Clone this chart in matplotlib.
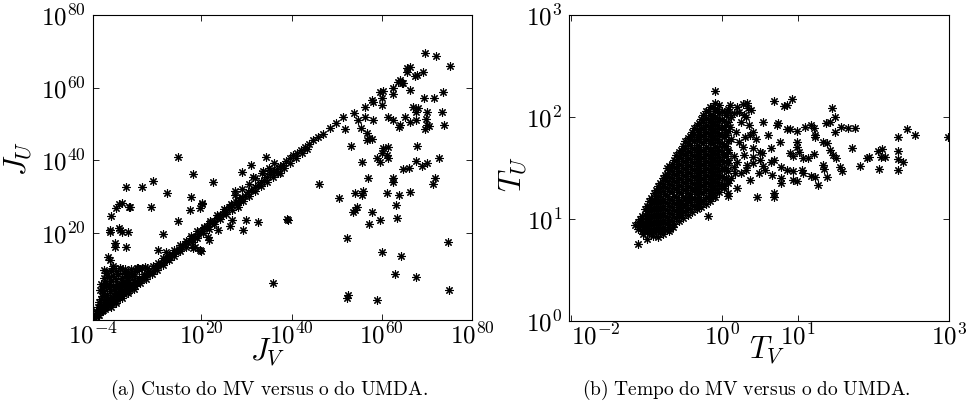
import numpy as np
import matplotlib
matplotlib.use("Agg")
import matplotlib.pyplot as plt
from matplotlib.ticker import NullLocator

plt.rcParams["mathtext.fontset"] = "cm"
plt.rcParams["font.family"] = "serif"

# ---------------- (a) cost: log10(J_V), log10(J_U) ----------------
# points along the main diagonal
cost_diag = [
    (-3.6, -3.4), (-3.3, -3.0), (-3.0, -2.6), (-2.7, -2.5), (-2.4, -1.9), (-2.0, -1.6),
    (-1.7, -1.2), (-1.3, -1.0), (-1.0, -0.5), (-0.6, -0.2), (-0.2, 0.3), (0.2, 0.6),
    (0.6, 1.1), (1.0, 1.3), (1.4, 1.9), (1.8, 2.2), (2.3, 2.7), (2.8, 3.1), (3.2, 3.8),
    (3.7, 4.0), (4.2, 4.6), (4.7, 5.3), (5.2, 5.5), (5.8, 6.3), (6.3, 6.9), (6.9, 7.2),
    (7.4, 8.0), (8.0, 8.4), (8.6, 9.1), (9.2, 9.6), (9.8, 10.4), (10.4, 10.9), (11.0, 11.6),
    (11.7, 12.1), (12.3, 12.9), (13.0, 13.4), (13.6, 14.2), (14.3, 14.8), (15.0, 15.6),
    (15.7, 16.1), (16.4, 17.0), (17.1, 17.6), (17.8, 18.5), (18.5, 19.0), (19.2, 19.8),
    (19.9, 20.4), (20.6, 21.3), (21.3, 21.8), (22.0, 22.8), (22.7, 23.2), (23.4, 24.1),
    (24.1, 24.9), (24.8, 25.3), (25.5, 26.2), (26.2, 27.0), (26.9, 27.6), (27.6, 28.4),
    (28.3, 29.0), (29.0, 29.9), (29.7, 30.3), (30.4, 31.2), (31.1, 31.8), (31.8, 32.6),
    (32.5, 33.3), (33.2, 34.0), (33.9, 34.5), (34.6, 35.4), (35.3, 36.2), (36.0, 36.8),
    (36.7, 37.6), (37.4, 38.3), (38.1, 38.8), (38.8, 39.7), (39.6, 40.6), (40.4, 41.4),
    (41.2, 42.0), (42.0, 42.9), (42.9, 43.8), (43.8, 44.5), (44.8, 45.5), (45.8, 46.4),
    (46.9, 47.3), (48.5, 48.9), (49.9, 50.4), (51.5, 51.8),
    # upper edge of the band
    (-3.2, -2.0), (-2.5, -0.8), (-1.8, 0.0), (-1.0, 1.0), (-0.2, 1.8), (0.6, 2.6),
    (1.5, 3.5), (2.4, 4.3), (3.3, 5.0), (4.2, 5.8), (5.2, 6.6), (6.2, 7.6), (7.2, 8.6),
    (8.2, 9.5), (9.3, 10.8), (10.5, 11.8), (11.6, 13.0), (12.8, 14.0), (14.0, 15.2),
    (15.2, 16.6), (16.5, 17.8), (17.8, 19.2), (19.0, 20.4), (20.5, 21.6), (22.0, 23.4),
    (23.5, 25.0), (25.0, 26.5), (26.5, 28.0), (27.5, 30.5), (29.0, 32.0), (30.5, 33.5),
    (32.0, 35.0), (33.5, 36.5), (35.0, 38.0), (36.0, 39.2), (28.5, 29.0),
    # lower edge of the band
    (0.0, -0.4), (1.2, 0.8), (2.5, 2.1), (3.8, 3.4), (5.0, 4.6), (6.5, 6.1), (7.8, 7.4),
    (9.0, 8.6), (10.2, 9.8), (11.5, 11.1), (12.8, 12.4), (14.0, 13.6), (15.3, 14.9),
    (16.6, 16.2), (17.9, 17.5), (19.1, 18.7), (20.4, 20.0), (21.6, 21.2), (22.9, 22.5),
    (24.2, 23.8), (25.5, 25.1), (26.8, 26.4), (28.0, 27.6), (29.3, 28.9), (30.6, 30.2),
    (31.9, 31.5), (33.2, 32.8), (34.5, 34.1), (35.8, 35.4), (37.0, 36.6), (38.3, 37.9),
    (39.6, 39.2), (41.0, 40.6), (42.4, 42.0), (43.5, 43.1),
]

# cluster above the diagonal near the origin
cost_cluster = [
    (0.4, 10.8), (2.0, 10.4), (3.0, 10.0), (3.8, 9.3), (-1.1, 9.0), (0.4, 8.0), (1.5, 8.6),
    (2.4, 7.6), (3.5, 8.0), (4.6, 8.8), (5.4, 9.6), (6.2, 10.0), (-1.3, 6.2), (0.0, 6.8),
    (1.3, 6.0), (2.6, 6.4), (4.0, 6.6), (5.0, 7.0), (-1.8, 4.3), (-0.5, 5.0), (0.9, 4.6),
    (2.0, 4.0), (-2.0, 2.6), (-0.8, 3.0), (0.4, 2.4), (-2.6, 1.0), (-1.5, 1.6), (-3.0, -0.5),
    (-2.2, 0.0), (-1.0, 1.0), (3.0, 5.2), (1.6, 2.6), (-3.3, -1.5),
    (-1.5, 5.0), (-0.5, 6.0), (0.5, 5.5), (1.8, 5.0), (3.0, 6.0), (4.0, 7.8), (5.0, 8.2),
    (0.8, 3.5), (-1.0, 2.2), (-2.3, 1.8), (-1.7, 3.5), (-0.3, 4.0), (2.2, 5.8), (3.6, 7.0),
    (1.0, 7.2), (-0.5, 7.8), (-1.6, 7.6), (-2.2, 6.0), (0.0, 9.4), (1.2, 9.6), (2.8, 9.0),
    (4.5, 10.0), (-2.5, 4.2), (-1.5, 9.8), (6.8, 10.2),
]

# scattered points away from the diagonal
cost_scatter = [
    (14.8, 40.9), (18.2, 36.2), (22.6, 34.0), (29.0, 36.8), (31.0, 38.7), (34.3, 40.9),
    (31.5, 35.4), (33.7, 37.0), (35.2, 37.3), (37.4, 36.5), (17.7, 29.9), (20.2, 28.2),
    (19.7, 26.8), (17.5, 26.3), (27.5, 31.5), (28.1, 27.1), (26.8, 23.5), (26.4, 21.9),
    (29.9, 23.5), (32.6, 23.0), (39.0, 23.8), (29.2, 20.8), (23.7, 20.8), (21.5, 18.9),
    (21.7, 18.0), (18.6, 16.1), (19.9, 15.0), (12.4, 31.0), (20.2, 28.0), (14.8, 23.3),
    (11.5, 19.7), (10.4, 15.3), (8.0, 10.3), (5.8, 10.3), (8.9, 27.1), (9.3, 34.3),
    (6.9, 32.6), (3.3, 32.6), (4.2, 27.1), (1.8, 28.0), (2.4, 28.2), (0.0, 24.6),
    (-0.2, 20.8), (-0.2, 20.2), (2.0, 20.8), (3.8, 20.2), (0.9, 17.2), (0.9, 16.1),
    (3.3, 16.1), (-0.7, 13.4), (-0.2, 12.5), (-0.9, 8.9), (0.4, 10.3), (2.0, 10.3),
    (-1.1, 5.6), (1.1, 26.8), (4.0, 27.1), (1.8, 21.3), (2.4, 20.2), (12.2, 14.7),
    (18.2, 15.8), (19.7, 15.3), (6.0, 10.3), (7.5, 10.6), (46.1, 33.5), (35.9, 6.2),
    (39.2, 23.5),
    (69.6, 69.5), (72.0, 68.7), (75.1, 66.0), (65.6, 65.4), (66.2, 65.7), (65.6, 64.3),
    (67.4, 63.2), (67.8, 63.5), (69.1, 64.3), (64.0, 62.1), (64.5, 61.3), (64.7, 61.3),
    (63.6, 61.5), (66.2, 59.3), (62.5, 60.0), (62.5, 58.2), (59.6, 58.8), (60.3, 59.1),
    (60.0, 57.1), (57.8, 56.6), (58.0, 56.0), (56.3, 54.7), (60.0, 55.2), (73.6, 58.8),
    (69.4, 57.1), (71.6, 57.1), (66.9, 54.7), (68.0, 54.4), (67.6, 53.3), (70.0, 53.3),
    (73.3, 53.3), (53.8, 53.0), (54.7, 51.1), (56.3, 51.9), (58.0, 51.1), (61.4, 51.9),
    (62.5, 51.1), (65.1, 51.9), (66.2, 50.5), (67.6, 51.1), (69.8, 51.4), (70.0, 49.7),
    (70.5, 49.4), (64.0, 49.7), (63.8, 49.2), (51.8, 48.6), (55.4, 48.9), (73.8, 49.7),
    (69.6, 48.6), (56.7, 47.5), (57.2, 46.1), (56.7, 45.6), (57.8, 45.9), (53.2, 43.9),
    (67.8, 43.9), (60.3, 43.4), (61.4, 43.6), (60.0, 42.0), (61.1, 41.4), (61.4, 40.6),
    (58.9, 40.6), (59.6, 39.5), (55.6, 39.5), (67.6, 39.8), (68.9, 38.4), (70.0, 39.2),
    (72.7, 40.6), (64.7, 37.6), (66.0, 37.9), (56.9, 35.1), (62.5, 35.1), (71.8, 35.1),
    (62.5, 34.0), (71.3, 33.5), (54.1, 31.0), (55.8, 31.5), (55.6, 30.4), (50.5, 29.6),
    (61.1, 31.0), (63.8, 30.4), (66.2, 31.3), (63.1, 27.7), (54.1, 26.3), (54.5, 27.1),
    (53.6, 25.7), (57.8, 25.7), (59.6, 23.5), (57.2, 22.4), (63.4, 24.1), (52.3, 18.6),
    (74.7, 17.5), (60.0, 14.7), (64.3, 13.6), (62.9, 8.7), (67.6, 7.8), (74.9, 4.3),
    (52.5, 2.9), (52.3, 2.1), (58.9, 1.5),
]

# ---------------- (b) time: log10(T_V), log10(T_U) ----------------
# dense core, one entry per T_V column: (log10 T_V, [log10 T_U ...])
time_core = [
    (-1.12, [0.90, 0.97]),
    (-1.09, [0.93, 1.00]),
    (-1.06, [0.88, 0.95, 1.03]),
    (-1.03, [0.90, 0.97, 1.04, 1.10]),
    (-1.00, [0.87, 0.94, 1.01, 1.08, 1.13]),
    (-0.97, [0.90, 0.97, 1.04, 1.11, 1.18]),
    (-0.94, [0.87, 0.94, 1.01, 1.08, 1.15, 1.21]),
    (-0.91, [0.91, 0.98, 1.05, 1.12, 1.19, 1.25]),
    (-0.88, [0.88, 0.95, 1.02, 1.09, 1.16, 1.23, 1.28]),
    (-0.85, [0.91, 0.98, 1.05, 1.12, 1.19, 1.26, 1.32]),
    (-0.82, [0.88, 0.95, 1.02, 1.09, 1.16, 1.23, 1.30, 1.35]),
    (-0.79, [0.92, 0.99, 1.06, 1.13, 1.20, 1.27, 1.34, 1.40]),
    (-0.76, [0.89, 0.96, 1.03, 1.10, 1.17, 1.24, 1.31, 1.38, 1.43]),
    (-0.73, [0.95, 1.02, 1.09, 1.16, 1.23, 1.30, 1.37, 1.44, 1.50]),
    (-0.70, [0.92, 0.99, 1.06, 1.13, 1.20, 1.27, 1.34, 1.41, 1.48, 1.52]),
    (-0.67, [0.98, 1.05, 1.12, 1.19, 1.26, 1.33, 1.40, 1.47, 1.54]),
    (-0.64, [0.95, 1.02, 1.09, 1.16, 1.23, 1.30, 1.37, 1.44, 1.51, 1.58]),
    (-0.61, [1.01, 1.08, 1.15, 1.22, 1.29, 1.36, 1.43, 1.50, 1.57, 1.63]),
    (-0.58, [0.98, 1.05, 1.12, 1.19, 1.26, 1.33, 1.40, 1.47, 1.54, 1.61, 1.66]),
    (-0.55, [1.04, 1.11, 1.18, 1.25, 1.32, 1.39, 1.46, 1.53, 1.60, 1.68]),
    (-0.52, [1.01, 1.08, 1.15, 1.22, 1.29, 1.36, 1.43, 1.50, 1.57, 1.64, 1.72]),
    (-0.49, [1.07, 1.14, 1.21, 1.28, 1.35, 1.42, 1.49, 1.56, 1.63, 1.70, 1.76]),
    (-0.46, [1.04, 1.11, 1.18, 1.25, 1.32, 1.39, 1.46, 1.53, 1.60, 1.67, 1.74, 1.79]),
    (-0.43, [1.10, 1.17, 1.24, 1.31, 1.38, 1.45, 1.52, 1.59, 1.66, 1.73, 1.81]),
    (-0.40, [1.07, 1.14, 1.21, 1.28, 1.35, 1.42, 1.49, 1.56, 1.63, 1.70, 1.77, 1.85]),
    (-0.37, [1.13, 1.20, 1.27, 1.34, 1.41, 1.48, 1.55, 1.62, 1.69, 1.76, 1.83, 1.89]),
    (-0.34, [1.10, 1.17, 1.24, 1.31, 1.38, 1.45, 1.52, 1.59, 1.66, 1.73, 1.80, 1.87, 1.92]),
    (-0.31, [1.15, 1.22, 1.29, 1.36, 1.43, 1.50, 1.57, 1.64, 1.71, 1.78, 1.85, 1.94]),
    (-0.28, [1.12, 1.19, 1.26, 1.33, 1.40, 1.47, 1.54, 1.61, 1.68, 1.75, 1.82, 1.89, 1.98]),
    (-0.25, [1.18, 1.25, 1.32, 1.39, 1.46, 1.53, 1.60, 1.67, 1.74, 1.81, 1.88, 1.95, 2.02]),
    (-0.22, [1.15, 1.22, 1.29, 1.36, 1.43, 1.50, 1.57, 1.64, 1.71, 1.78, 1.85, 1.92, 1.99, 2.06]),
    (-0.19, [1.21, 1.28, 1.35, 1.42, 1.49, 1.56, 1.63, 1.70, 1.77, 1.84, 1.91, 1.98, 2.06]),
    (-0.16, [1.18, 1.25, 1.32, 1.39, 1.46, 1.53, 1.60, 1.67, 1.74, 1.81, 1.88, 1.95, 2.02, 2.10]),
    (-0.13, [1.25, 1.32, 1.39, 1.46, 1.53, 1.60, 1.67, 1.74, 1.81, 1.88, 1.95, 2.02, 2.10]),
    (-0.10, [1.22, 1.29, 1.36, 1.43, 1.50, 1.57, 1.64, 1.71, 1.78, 1.85, 1.92, 1.99, 2.06, 2.14, 2.25]),
    (-0.07, [1.29, 1.36, 1.43, 1.50, 1.57, 1.64, 1.71, 1.78, 1.85, 1.92, 1.99, 2.08]),
    (-0.04, [1.26, 1.33, 1.40, 1.47, 1.54, 1.61, 1.68, 1.75, 1.82, 1.89, 1.96, 2.04, 2.12]),
    (-0.01, [1.34, 1.42, 1.50, 1.58, 1.66, 1.74, 1.82, 1.90, 1.98, 2.06]),
    (0.02, [1.32, 1.40, 1.48, 1.56, 1.64, 1.72, 1.80, 1.88, 1.96, 2.05]),
    (0.05, [1.40, 1.50, 1.62, 1.72, 1.82, 1.92, 2.02]),
    (0.08, [1.38, 1.47, 1.58, 1.66, 1.76, 1.86, 1.95, 2.08]),
]

time_scatter = [
    (0.68, 2.16), (0.81, 2.11), (0.85, 2.12), (0.92, 2.18), (1.45, 2.09), (1.49, 2.00),
    (1.37, 1.94), (1.43, 1.95), (1.49, 1.85), (1.57, 1.90), (1.66, 1.89), (1.75, 1.89),
    (0.54, 1.95), (0.72, 1.92), (0.74, 1.94), (0.86, 1.88), (0.90, 1.88), (0.99, 1.86),
    (1.10, 1.90), (1.17, 1.92), (1.21, 1.89), (1.22, 1.82), (1.23, 1.80), (0.60, 1.82),
    (0.76, 1.75), (0.99, 1.75), (0.99, 1.71), (1.01, 1.66), (0.65, 1.70), (0.50, 1.66),
    (0.89, 1.65), (0.94, 1.62), (1.07, 1.60), (1.13, 1.60), (1.21, 1.64), (1.33, 1.75),
    (1.39, 1.74), (1.43, 1.68), (1.47, 1.63), (1.51, 1.60), (1.56, 1.51), (1.58, 1.47),
    (1.33, 1.53), (1.35, 1.49), (1.39, 1.41), (1.06, 1.48), (1.07, 1.45), (0.77, 1.51),
    (0.85, 1.48), (0.93, 1.47), (1.17, 1.42), (1.23, 1.41), (0.68, 1.58), (0.64, 1.56),
    (0.54, 1.52), (0.57, 1.48), (0.66, 1.43), (0.77, 1.40), (0.78, 1.35), (0.94, 1.38),
    (0.99, 1.37), (1.26, 1.33), (0.68, 1.25), (0.68, 1.22), (1.72, 1.70), (1.82, 1.52),
    (1.91, 1.60), (1.94, 1.61), (2.06, 1.67), (2.11, 1.69), (2.10, 1.61), (2.15, 1.61),
    (2.07, 1.49), (2.32, 1.67), (2.32, 1.59), (2.39, 1.56), (2.32, 1.48), (2.33, 1.80),
    (2.44, 1.88), (2.55, 1.82), (2.98, 1.80),
    (0.07, 2.05), (0.15, 2.04), (0.33, 2.14), (0.34, 2.09), (0.28, 2.02), (0.31, 2.00),
    (0.41, 1.85), (0.37, 1.82), (0.07, 1.68), (0.27, 1.71), (0.28, 1.63), (0.40, 1.70),
    (0.41, 1.61), (0.53, 1.65), (0.33, 1.53), (0.31, 1.48), (0.15, 1.51), (0.20, 1.56),
    (0.37, 1.38), (0.08, 1.35), (0.17, 1.45), (0.07, 1.25), (0.08, 1.23), (-0.17, 1.23),
    (-0.13, 1.22), (0.46, 1.22), (-0.31, 1.13), (-0.19, 1.03), (-0.33, 1.30), (-0.46, 1.19),
    (-0.45, 1.22), (-0.56, 1.12), (-0.56, 1.06), (-0.72, 0.97), (-0.69, 0.90), (-0.82, 0.87),
    (-0.95, 0.86), (-1.05, 0.92), (-1.11, 0.75), (-0.98, 0.89), (-0.99, 0.97),
    (0.10, 1.90), (0.18, 1.85), (0.25, 1.95), (0.30, 1.80), (0.22, 1.75), (0.12, 1.78),
    (0.05, 1.85), (0.35, 1.92), (0.45, 1.78), (0.15, 1.62), (0.08, 1.55), (0.25, 1.45),
    (0.12, 1.40), (0.20, 1.30), (0.02, 1.30), (0.40, 1.55), (0.48, 1.45), (0.50, 1.58),
    (0.10, 2.12), (0.20, 2.10), (0.27, 2.13), (0.22, 2.05), (0.12, 2.00), (0.38, 2.07),
    (-1.15, 0.94), (-1.05, 0.85), (-1.00, 0.80), (-0.92, 0.83), (-0.85, 0.82), (-0.78, 0.85),
    (-0.70, 0.88), (-0.65, 0.92), (-0.88, 0.90), (-1.08, 0.98),
]

cost_xticks = [-4, 20, 40, 60, 80]
cost_yticks = [20, 40, 60, 80]
time_xticks = [-2, 0, 1, 3]
time_yticks = [0, 1, 2, 3]

caption_a = r"$\mathrm{(a)\ Custo\ do\ MV\ versus\ o\ do\ UMDA.}$"
caption_b = r"$\mathrm{(b)\ Tempo\ do\ MV\ versus\ o\ do\ UMDA.}$"


def to_values(pairs):
    lx, ly = zip(*pairs)
    return 10.0 ** np.array(lx), 10.0 ** np.array(ly)


def style_axes(ax, xticks, yticks):
    ax.set_xscale("log")
    ax.set_yscale("log")
    ax.set_xticks([10.0 ** e for e in xticks])
    ax.set_xticklabels([r"$10^{%d}$" % e for e in xticks])
    ax.set_yticks([10.0 ** e for e in yticks])
    ax.set_yticklabels([r"$10^{%d}$" % e for e in yticks])
    ax.xaxis.set_minor_locator(NullLocator())
    ax.yaxis.set_minor_locator(NullLocator())
    ax.tick_params(direction="in", top=True, right=True, length=4, width=0.6,
                   labelsize=18)
    ax.tick_params(axis="x", pad=2)
    ax.tick_params(axis="y", pad=5)
    for s in ax.spines.values():
        s.set_linewidth(0.8)


marker = dict(linestyle="none", marker=(8, 2, 0), markersize=6,
              markeredgewidth=0.8, color="k")

fig = plt.figure(figsize=(9.67, 4.07), dpi=100)

# (a) cost
ax1 = fig.add_axes([0.0962, 0.2138, 0.392, 0.749])
for group in (cost_diag, cost_cluster, cost_scatter):
    x, y = to_values(group)
    ax1.plot(x, y, **marker)
style_axes(ax1, cost_xticks, cost_yticks)
ax1.set_xlim(1e-4, 1e80)
ax1.set_ylim(1e-4, 1e80)
ax1.set_xlabel(r"$J_V$", fontsize=22)
ax1.set_ylabel(r"$J_U$", fontsize=22)
ax1.xaxis.set_label_coords(0.462, -0.105)
ax1.yaxis.set_label_coords(-0.198, 0.53)
ax1.xaxis.label.set_va("center")
ax1.yaxis.label.set_va("center")

# (b) time
ax2 = fig.add_axes([0.5884, 0.2113, 0.393, 0.752])
core = [(cx, cy) for cx, ys in time_core for cy in ys]
for group in (core, time_scatter):
    x, y = to_values(group)
    ax2.plot(x, y, **marker)
style_axes(ax2, time_xticks, time_yticks)
ax2.set_xlim(10 ** -2.03, 1e3)
ax2.set_ylim(1, 1e3)
ax2.get_xticklabels()[0].set_ha("left")
ax2.set_xlabel(r"$T_V$", fontsize=22)
ax2.set_ylabel(r"$T_U$", fontsize=22)
ax2.xaxis.set_label_coords(0.521, -0.095)
ax2.yaxis.set_label_coords(-0.147, 0.48)
ax2.xaxis.label.set_va("center")
ax2.yaxis.label.set_va("center")

fig.text(0.278, 0.042, caption_a, ha="center", va="center", fontsize=14)
fig.text(0.772, 0.042, caption_b, ha="center", va="center", fontsize=14)

fig.savefig("out.png", dpi=100)
